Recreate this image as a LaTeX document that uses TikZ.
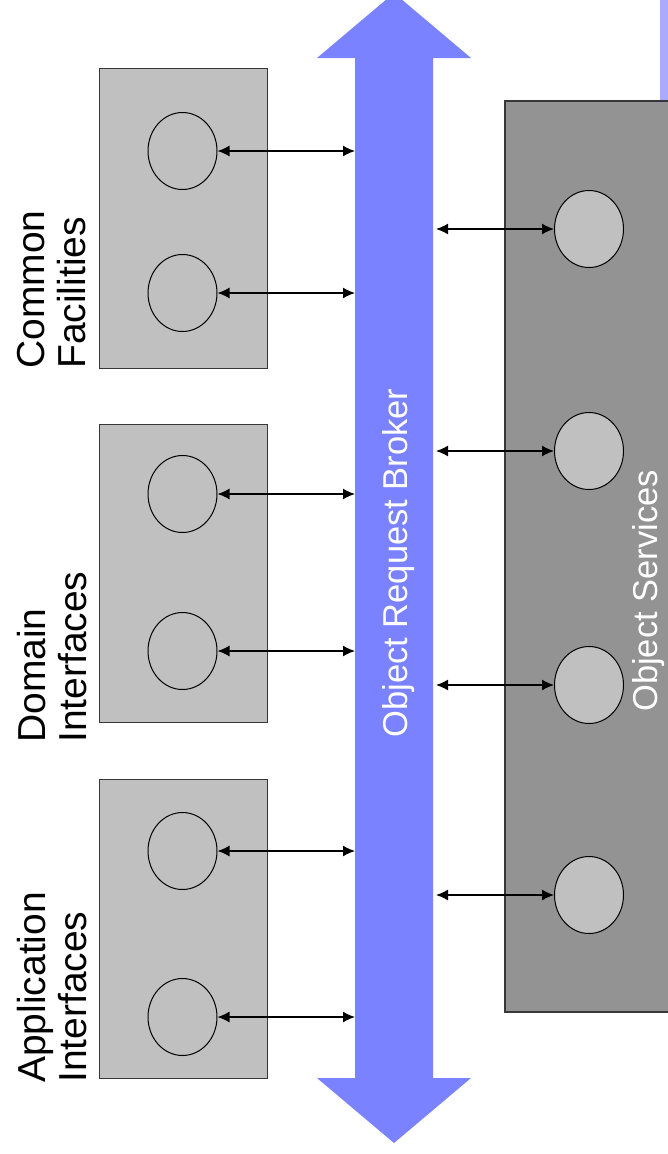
\documentclass[tikz,border=0pt]{standalone}
\usepackage{fontspec}
\setmainfont{Liberation Sans}
\usetikzlibrary{arrows.meta,shapes.geometric}
\definecolor{orb}{RGB}{122,130,255}
\definecolor{lav}{RGB}{170,170,255}
\definecolor{boxg}{RGB}{192,192,192}
\definecolor{svcg}{RGB}{147,147,147}
\definecolor{edge}{RGB}{55,55,55}
\begin{document}
\begin{tikzpicture}[x=1pt,y=-1pt,
  panel/.style={draw=edge, line width=1pt, fill=boxg, inner sep=0},
  svcpanel/.style={draw=edge, line width=1.6pt, fill=svcg, inner sep=0},
  iface/.style={ellipse, draw=black, line width=1pt, fill=boxg, minimum width=69pt, minimum height=77pt, inner sep=0},
  link/.style={{Latex[length=12pt,width=11pt]}-{Latex[length=12pt,width=11pt]}, line width=1.4pt},
  lbl/.style={rotate=90, anchor=north west, inner sep=0, align=left, font=\fontsize{39}{41}\selectfont},
  bandtext/.style={rotate=90, anchor=base, inner sep=0, text=white, font=\fontsize{34.5}{40}\selectfont}]
\useasboundingbox (0,0) rectangle (667,1154);
% background lavender strip
\fill[lav] (660,-5) rectangle (675,101);
% left panels
\node[panel, minimum width=168pt, minimum height=300pt] (pcf) at (183,218) {};
\node[panel, minimum width=168pt, minimum height=298pt] (pdi) at (183,573) {};
\node[panel, minimum width=168pt, minimum height=299pt] (pai) at (183,928.5) {};
% object services panel
\node[svcpanel, minimum width=180pt, minimum height=911pt] (psv) at (595,556.5) {};
% ORB double arrow
\fill[orb] (355,58) -- (317,58) -- (394,-7) -- (471,58) -- (433,58) -- (433,1078)
  -- (471,1078) -- (394,1143) -- (317,1078) -- (355,1078) -- cycle;
\coordinate (orbL) at (355,0);
\coordinate (orbR) at (436,0);
% left interface circles
\node[iface] (a1) at (182.5,151) {};
\node[iface] (a2) at (182.5,293) {};
\node[iface] (a3) at (182.5,494) {};
\node[iface] (a4) at (182.5,651) {};
\node[iface] (a5) at (182.5,851) {};
\node[iface] (a6) at (182.5,1017) {};
\foreach \n in {a1,a2,a3,a4,a5,a6}
  \draw[link] (\n.east) -- (\n.east -| orbL);
% service circles
\node[iface] (s1) at (589,229) {};
\node[iface] (s2) at (589,451) {};
\node[iface] (s3) at (589,685) {};
\node[iface] (s4) at (589,895) {};
\foreach \n in {s1,s2,s3,s4}
  \draw[link] (\n.west -| orbR) -- (\n.west);
% labels
\node[lbl] (lcf) at (17,369) {Common\\Facilities};
\node[lbl] (ldi) at (17,743) {Domain\\Interfaces};
\node[lbl] (lai) at (17,1083) {Application\\Interfaces};
\node[bandtext] (torb) at (407,563) {Object Request Broker};
\node[bandtext] (tsv) at (657,591) {Object Services};
\end{tikzpicture}
\end{document}
